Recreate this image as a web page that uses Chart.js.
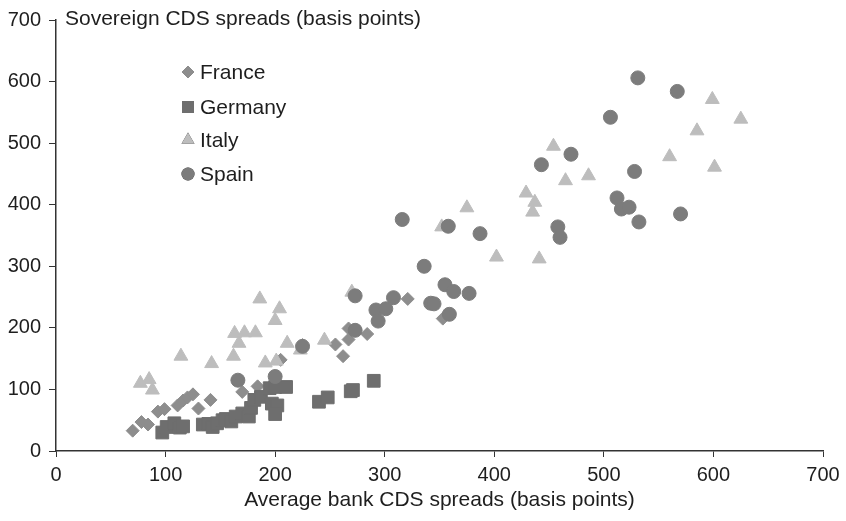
<!DOCTYPE html>
<html>
<head>
<meta charset="utf-8">
<script src="https://cdn.jsdelivr.net/npm/chart.js@4.4.1/dist/chart.umd.min.js"></script>
<style>
  html, body { margin: 0; padding: 0; background: #fff; }
  #wrap { width: 846px; height: 521px; }
</style>
</head>
<body>
<div id="wrap"><canvas id="chart"></canvas></div>
<script>
// bank CDS (x) vs sovereign CDS (y), basis points
const france = [[70,33],[78,47],[84,43],[93,64],[99,68],[111,74],[116,82],[120,87],[125,92],[130,69],
  [141,83],[170,96],[184,105],[205,148],[225,172],[255,173],[262,154],[267,181],[267,199],[284,190],
  [321,247],[353,215]];
const germany = [[97,30],[101,39],[108,45],[113,38],[116,40],[134,43],[139,44],[143,39],[147,45],[152,50],
  [155,52],[160,48],[164,56],[170,61],[176,56],[178,70],[181,83],[187,88],[195,102],[200,104],
  [210,104],[197,77],[202,74],[200,60],[240,80],[248,87],[269,97],[271,99],[290,114]];
const italy = [[77,110],[85,116],[88,99],[114,154],[142,142],[162,154],[163,191],[167,175],[172,192],[182,192],
  [186,247],[191,143],[201,146],[200,212],[204,231],[211,175],[223,164],[245,180],[270,258],[352,364],
  [375,395],[402,315],[429,419],[437,404],[435,388],[441,312],[454,495],[465,439],[486,447],[560,478],
  [585,520],[599,571],[625,539],[601,461]];
const spain = [[166,115],[200,121],[225,170],[273,252],[273,196],[292,229],[301,231],[294,211],[308,249],[316,376],
  [336,300],[342,240],[345,239],[355,270],[358,365],[359,222],[363,259],[377,256],[387,353],[443,465],
  [458,364],[460,347],[470,482],[506,542],[512,411],[516,393],[523,396],[528,454],[532,372],[531,606],
  [567,584],[570,385]];

const xTicks = [0, 100, 200, 300, 400, 500, 600, 700];
const yTicks = [0, 100, 200, 300, 400, 500, 600, 700];

const countries = ['France', 'Germany', 'Italy', 'Spain'];
const seriesData = [france, germany, italy, spain];

const styles = [
  { color: '#8d8d8d', pointStyle: 'rectRot', radius: 6.5, legendRadius: 6 },
  { color: '#6e6e6e', pointStyle: 'rect', radius: 9, legendRadius: 8.5 },
  { color: '#bdbdbd', pointStyle: 'triangle', radius: 8, legendRadius: 7.5 },
  { color: '#7c7c7c', pointStyle: 'circle', radius: 7, legendRadius: 6.5 }
];

const textColor = '#1e1e1e';
const axisColor = '#333333';
Chart.defaults.font.family = '"Liberation Sans", Arial, sans-serif';

const datasets = countries.map((name, i) => ({
  label: name,
  data: seriesData[i].map(p => ({ x: p[0], y: p[1] })),
  pointStyle: styles[i].pointStyle,
  pointRadius: styles[i].radius,
  pointBackgroundColor: styles[i].color,
  pointBorderColor: styles[i].color,
  pointBorderWidth: 1,
  order: 4 - i
}));

// legend inside plot + y axis title on top
const extras = {
  id: 'extras',
  afterDraw(chart) {
    const ctx = chart.ctx;
    ctx.save();
    ctx.font = '21px "Liberation Sans", Arial, sans-serif';
    ctx.fillStyle = textColor;
    ctx.textBaseline = 'middle';
    ctx.textAlign = 'left';
    ctx.fillText('Sovereign CDS spreads (basis points)', 65, 19);

    const rows = [72, 107, 140, 174];
    countries.forEach((name, i) => {
      Chart.helpers.drawPoint(ctx, {
        pointStyle: styles[i].pointStyle,
        radius: styles[i].legendRadius,
        rotation: 0,
        borderWidth: 0
      }, 188, rows[i]);
      ctx.fillStyle = styles[i].color;
      ctx.fill();
      ctx.fillStyle = textColor;
      ctx.fillText(name, 200, rows[i] + 1);
    });
    ctx.restore();
  }
};

new Chart(document.getElementById('chart'), {
  type: 'scatter',
  data: { datasets },
  plugins: [extras],
  options: {
    responsive: true,
    maintainAspectRatio: false,
    animation: false,
    layout: { padding: { top: 19, right: 23, left: 0, bottom: 0 } },
    plugins: {
      legend: { display: false },
      tooltip: { enabled: false }
    },
    scales: {
      x: {
        type: 'linear',
        min: 0,
        max: 700,
        afterBuildTicks: s => { s.ticks = xTicks.map(v => ({ value: v })); },
        afterFit: s => { s.height = 70; },
        grid: { drawOnChartArea: false, tickLength: 6, color: axisColor },
        border: { color: axisColor, width: 1.5 },
        ticks: { color: textColor, font: { size: 20 }, padding: 6, maxRotation: 0 },
        title: {
          display: true,
          text: 'Average bank CDS spreads (basis points)',
          color: textColor,
          font: { size: 21 },
          padding: { top: 0, bottom: 8 }
        }
      },
      y: {
        type: 'linear',
        min: 0,
        max: 700,
        afterBuildTicks: s => { s.ticks = yTicks.map(v => ({ value: v })); },
        afterFit: s => { s.width = 56; },
        grid: { drawOnChartArea: false, tickLength: 7, color: axisColor },
        border: { color: axisColor, width: 1.5 },
        ticks: { color: textColor, font: { size: 20 }, padding: 8 }
      }
    }
  }
});
</script>
</body>
</html>
